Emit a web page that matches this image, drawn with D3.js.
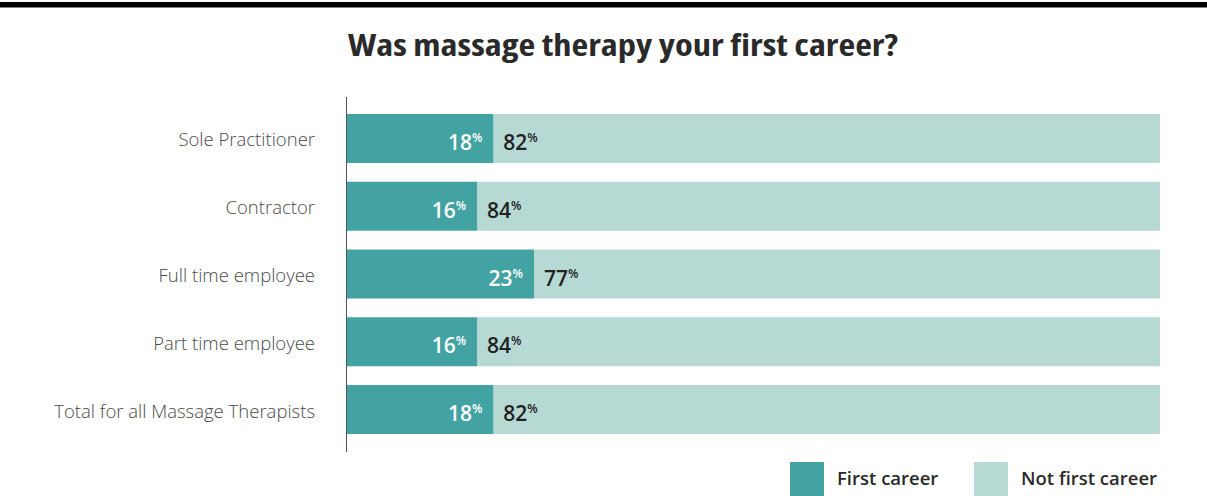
<!DOCTYPE html>
<html>
<head>
<meta charset="utf-8">
<script src="https://cdn.jsdelivr.net/npm/d3@7"></script>
<style>
  html, body { margin: 0; padding: 0; background: #fff; }
  svg { display: block; }
</style>
</head>
<body>
<div id="chart"></div>
<script>
// Survey answers: share of respondents for whom massage therapy was / was not the first career
const categories = [
  "Sole Practitioner",
  "Contractor",
  "Full time employee",
  "Part time employee",
  "Total for all Massage Therapists"
];
const firstCareer = [18, 16, 23, 16, 18];
const notFirstCareer = [82, 84, 77, 84, 82];
const seriesNames = ["First career", "Not first career"];
const seriesColors = ["#43a3a3", "#b7d9d4"];

const W = 1207, H = 496;
const svg = d3.select("#chart").append("svg")
  .attr("width", W).attr("height", H);

// top rule
svg.append("rect").attr("x", 0).attr("y", 2).attr("width", W).attr("height", 5.5).attr("fill", "#000");

// title (condensed bold)
svg.append("text")
  .attr("x", 623).attr("y", 56)
  .attr("text-anchor", "middle")
  .attr("font-family", "'Open Sans', sans-serif")
  .style("font-stretch", "75%")
  .attr("font-weight", "bold")
  .attr("font-size", 31)
  .attr("fill", "#2a2a2a")
  .attr("textLength", 550)
  .attr("lengthAdjust", "spacingAndGlyphs")
  .text("Was massage therapy your first career?");

const x = d3.scaleLinear().domain([0, 100]).range([347, 1160]);
const y = d3.scaleBand().domain(categories).range([114, 434]).paddingInner(0.277).paddingOuter(0);

const rows = categories.map((c, i) => ({ cat: c, a: firstCareer[i], b: notFirstCareer[i] }));

const g = svg.append("g");

// not-first-career segment (stacked after first-career)
g.selectAll("rect.b").data(rows).join("rect")
  .attr("class", "b")
  .attr("x", d => x(d.a))
  .attr("y", d => y(d.cat))
  .attr("width", d => x(d.a + d.b) - x(d.a))
  .attr("height", y.bandwidth())
  .attr("fill", seriesColors[1]);

// first-career segment
g.selectAll("rect.a").data(rows).join("rect")
  .attr("class", "a")
  .attr("x", x(0))
  .attr("y", d => y(d.cat))
  .attr("width", d => x(d.a) - x(0))
  .attr("height", y.bandwidth())
  .attr("fill", seriesColors[0]);

// baseline axis
g.append("line")
  .attr("x1", x(0) - 0.5).attr("x2", x(0) - 0.5)
  .attr("y1", 97).attr("y2", 452)
  .attr("stroke", "#555").attr("stroke-width", 1);

// category labels
g.selectAll("text.cat").data(rows).join("text")
  .attr("class", "cat")
  .attr("x", 315)
  .attr("y", d => y(d.cat) + y.bandwidth() / 2 + 8)
  .attr("text-anchor", "end")
  .attr("font-family", "'Open Sans', sans-serif")
  .attr("font-weight", 300)
  .attr("font-size", 18.5)
  .attr("fill", "#4a4a4a")
  .text(d => d.cat);

const valueFont = "'Open Sans', sans-serif";

function valueLabel(sel) {
  sel.each(function(d) {
    const t = d3.select(this);
    t.append("tspan").attr("font-size", 21).text(d.v);
    t.append("tspan").attr("font-size", 12).attr("dy", -8).text("%");
  });
}

// white labels inside the first-career segment
g.selectAll("text.va").data(rows.map(r => ({ cat: r.cat, v: r.a, pos: r.a }))).join("text")
  .attr("class", "va")
  .attr("x", d => x(d.pos) - 11)
  .attr("y", d => y(d.cat) + 36)
  .attr("text-anchor", "end")
  .attr("font-family", valueFont)
  .attr("font-weight", 600)
  .attr("fill", "#ffffff")
  .call(valueLabel);

// dark labels at the start of the not-first-career segment
g.selectAll("text.vb").data(rows.map(r => ({ cat: r.cat, v: r.b, pos: r.a }))).join("text")
  .attr("class", "vb")
  .attr("x", d => x(d.pos) + 10)
  .attr("y", d => y(d.cat) + 36)
  .attr("text-anchor", "start")
  .attr("font-family", valueFont)
  .attr("font-weight", 600)
  .attr("fill", "#222")
  .call(valueLabel);

// legend
const legendX = [790, 974];
const legend = svg.selectAll("g.leg").data(seriesNames).join("g")
  .attr("class", "leg")
  .attr("transform", (d, i) => `translate(${legendX[i]},462)`);
legend.append("rect")
  .attr("width", 34).attr("height", 40)
  .attr("fill", (d, i) => seriesColors[i]);
legend.append("text")
  .attr("x", 47).attr("y", 23)
  .attr("font-family", "'Open Sans', sans-serif")
  .attr("font-weight", 600)
  .attr("font-size", 18.5)
  .attr("fill", "#2a2a2a")
  .text(d => d);
</script>
</body>
</html>
